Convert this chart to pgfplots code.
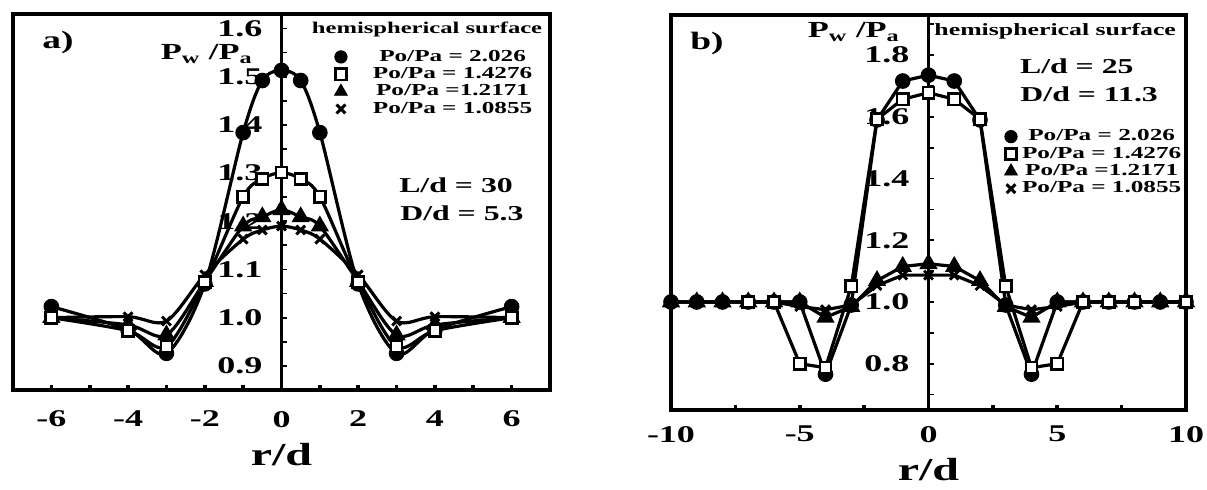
\documentclass[border=0pt]{standalone}
\usepackage{fontspec}
\setmainfont{Liberation Serif}[FakeStretch=1.5]
\usepackage{pgfplots}
\pgfplotsset{compat=1.18}

\newcommand\tf{\bfseries\fontsize{12}{14}\selectfont}
\newcommand\lf{\bfseries\fontsize{8.4}{10}\selectfont}
\newcommand\rf{\bfseries\fontsize{16}{18}\selectfont}
\newcommand\pf{\bfseries\fontsize{11.5}{13}\selectfont}
\newcommand\af{\bfseries\fontsize{12.5}{14}\selectfont}
\newcommand\hfa{\bfseries\fontsize{8.2}{10}\selectfont}
\newcommand\hfb{\bfseries\fontsize{8.6}{10}\selectfont}
\newcommand\lbf{\bfseries\fontsize{10.6}{12}\selectfont}

\pgfplotsset{
  panel/.style={
    scale only axis, anchor=south west, clip=false,
    axis x line*=bottom, axis y line*=middle,
    tick align=inside,
    hide obscured x ticks=false, hide obscured y ticks=false,
    axis line style={line width=1.6pt},
    major tick length=2.5pt, minor tick length=2.5pt,
    xtick style={line width=1.8pt, black},
    ytick style={line width=0.9pt, black},
    ticklabel style={font=\tf},
    yticklabel style={xshift=-6pt},
    xlabel={r/d},
    xlabel style={at={(axis description cs:0.5,0)}, anchor=center, font=\rf},
    legend style={draw=none, fill=none, font=\lf, inner sep=0pt, row sep=0pt,
      nodes={inner sep=0.8pt}, anchor=north west},
    legend cell align=center,
    legend image code/.code={\draw[#1] plot coordinates {(0pt,0pt)};},
  },
  ln/.style={black, line width=1.6pt},
  mc/.style={black, mark=*, mark size=3.1pt, mark options={solid, fill=black}},
  ms/.style={black, mark=square*, mark size=2.8pt, mark options={solid, fill=white, line width=1.3pt}},
  mt/.style={black, mark=triangle*, mark size=3.7pt, mark options={solid, fill=black}},
  mx/.style={black, mark=x, mark size=3.1pt, mark options={solid, line width=1.5pt}},
}

\begin{document}
\begin{tikzpicture}
\useasboundingbox (0,0) rectangle (603.5pt,245pt);

% ---- panel a
\begin{axis}[panel, at={(6.5pt,50pt)}, width=268.5pt, height=188pt,
  xmin=-7, xmax=7, ymin=0.85, ymax=1.63,
  xtick={-6,-4,-2,0,2,4,6}, xticklabels={-6,-4,-2,0,2,4,6}, minor x tick num=1,
  ytick={0.9,1.0,1.1,1.2,1.3,1.4,1.5,1.6},
  yticklabels={0.9,1.0,1.1,1.2,1.3,1.4,1.5,1.6}, minor y tick num=1,
  xticklabel style={yshift=-7pt},
  xlabel style={yshift=-32.5pt},
  legend style={at={(0.598,0.910)}, /tikz/every odd column/.append style={column sep=12pt}},
]
\addlegendimage{mc}\addlegendentry{Po/Pa = 2.026}
\addlegendimage{ms}\addlegendentry{Po/Pa = 1.4276}
\addlegendimage{mt}\addlegendentry{Po/Pa =1.2171}
\addlegendimage{mx}\addlegendentry{Po/Pa = 1.0855}

\addplot[ln, mt, smooth, forget plot] coordinates {(-6,1.0) (-4,0.985) (-3,0.964) (-2,1.075) (-1,1.19) (-0.5,1.209) (0,1.224) (0.5,1.209) (1,1.19) (2,1.075) (3,0.964) (4,0.985) (6,1.0)};
\addplot[ln, mx, smooth, forget plot] coordinates {(-6,1.0) (-4,1.002) (-3,0.993) (-2,1.089) (-1,1.163) (-0.5,1.182) (0,1.19) (0.5,1.182) (1,1.163) (2,1.089) (3,0.993) (4,1.002) (6,1.0)};
\addplot[ln, mc, smooth, forget plot] coordinates {(-6,1.023) (-4,0.975) (-3,0.926) (-2,1.07) (-1,1.384) (-0.5,1.492) (0,1.513) (0.5,1.492) (1,1.384) (2,1.07) (3,0.926) (4,0.975) (6,1.023)};
\addplot[ln, ms, smooth, forget plot] coordinates {(-6,1.0) (-4,0.973) (-3,0.94) (-2,1.074) (-1,1.251) (-0.5,1.288) (0,1.301) (0.5,1.288) (1,1.251) (2,1.074) (3,0.94) (4,0.973) (6,1.0)};

\draw[line width=1.6pt] (rel axis cs:0,0) rectangle (rel axis cs:1,1);
\node[font=\af, inner sep=0pt] at (rel axis cs:0.084,0.923) {a)};
\node[font=\pf, inner sep=0pt, anchor=base east] at (rel axis cs:0.447,0.878) {P\textsubscript{w} /P\textsubscript{a}};
\node[font=\hfa, inner sep=0pt, anchor=base] at (rel axis cs:0.771,0.949) {hemispherical surface};
\node[font=\lbf, inner sep=0pt, anchor=base] at (rel axis cs:0.825,0.524) {L/d = 30};
\node[font=\lbf, inner sep=0pt, anchor=base] at (rel axis cs:0.836,0.452) {D/d = 5.3};
\end{axis}

% ---- panel b
\begin{axis}[panel, at={(335.5pt,40pt)}, width=257.5pt, height=197.5pt,
  xmin=-10, xmax=10, ymin=0.65, ymax=1.93,
  xtick={-10,-5,0,5,10}, xticklabels={-10,-5,0,5,10}, minor x tick num=1,
  ytick={0.8,1.0,1.2,1.4,1.6,1.8}, yticklabels={0.8,1.0,1.2,1.4,1.6,1.8},
  minor ytick={0.7,0.9,1.1,1.3,1.5,1.7,1.9},
  xticklabel style={yshift=-4.5pt},
  xlabel style={yshift=-30pt},
  legend style={at={(0.647,0.715)}, /tikz/every odd column/.append style={column sep=1.5pt}},
]
\addlegendimage{mc}\addlegendentry{Po/Pa = 2.026}
\addlegendimage{ms}\addlegendentry{Po/Pa = 1.4276}
\addlegendimage{mt}\addlegendentry{Po/Pa =1.2171}
\addlegendimage{mx}\addlegendentry{Po/Pa = 1.0855}

\addplot[ln, mt, forget plot] coordinates {(-10,1.0) (-9,1.0) (-8,1.0) (-7,1.0) (-6,1.0) (-5,1.0) (-4,0.95) (-3,0.985) (-2,1.069) (-1,1.115) (0,1.124) (1,1.115) (2,1.069) (3,0.985) (4,0.95) (5,1.0) (6,1.0) (7,1.0) (8,1.0) (9,1.0) (10,1.0)};
\addplot[ln, mx, forget plot] coordinates {(-10,1.0) (-9,1.0) (-8,1.0) (-7,1.0) (-6,1.0) (-5,0.985) (-4,0.975) (-3,0.99) (-2,1.053) (-1,1.087) (0,1.087) (1,1.087) (2,1.053) (3,0.99) (4,0.975) (5,0.985) (6,1.0) (7,1.0) (8,1.0) (9,1.0) (10,1.0)};
\addplot[ln, mc, forget plot] coordinates {(-10,1.0) (-9,1.0) (-8,1.0) (-7,1.0) (-6,1.0) (-5,1.0) (-4,0.766) (-3,0.99) (-2,1.59) (-1,1.716) (0,1.735) (1,1.716) (2,1.59) (3,0.99) (4,0.766) (5,1.0) (6,1.0) (7,1.0) (8,1.0) (9,1.0) (10,1.0)};
\addplot[ln, ms, forget plot] coordinates {(-7,1.0) (-6,1.0) (-5,0.8) (-4,0.787) (-3,1.051) (-2,1.592) (-1,1.657) (0,1.678) (1,1.657) (2,1.592) (3,1.051) (4,0.787) (5,0.8) (6,1.0) (7,1.0) (8,1.0) (10,1.0)};

\draw[line width=1.6pt] (rel axis cs:0,0) rectangle (rel axis cs:1,1);
\node[font=\af, inner sep=0pt] at (rel axis cs:0.070,0.929) {b)};
\node[font=\pf, inner sep=0pt, anchor=base east] at (rel axis cs:0.445,0.942) {P\textsubscript{w} /P\textsubscript{a}};
\node[font=\hfb, inner sep=0pt, anchor=base] at (rel axis cs:0.746,0.947) {hemispherical surface};
\node[font=\lbf, inner sep=0pt, anchor=base] at (rel axis cs:0.788,0.852) {L/d = 25};
\node[font=\lbf, inner sep=0pt, anchor=base] at (rel axis cs:0.812,0.781) {D/d = 11.3};
\end{axis}
\end{tikzpicture}
\end{document}
